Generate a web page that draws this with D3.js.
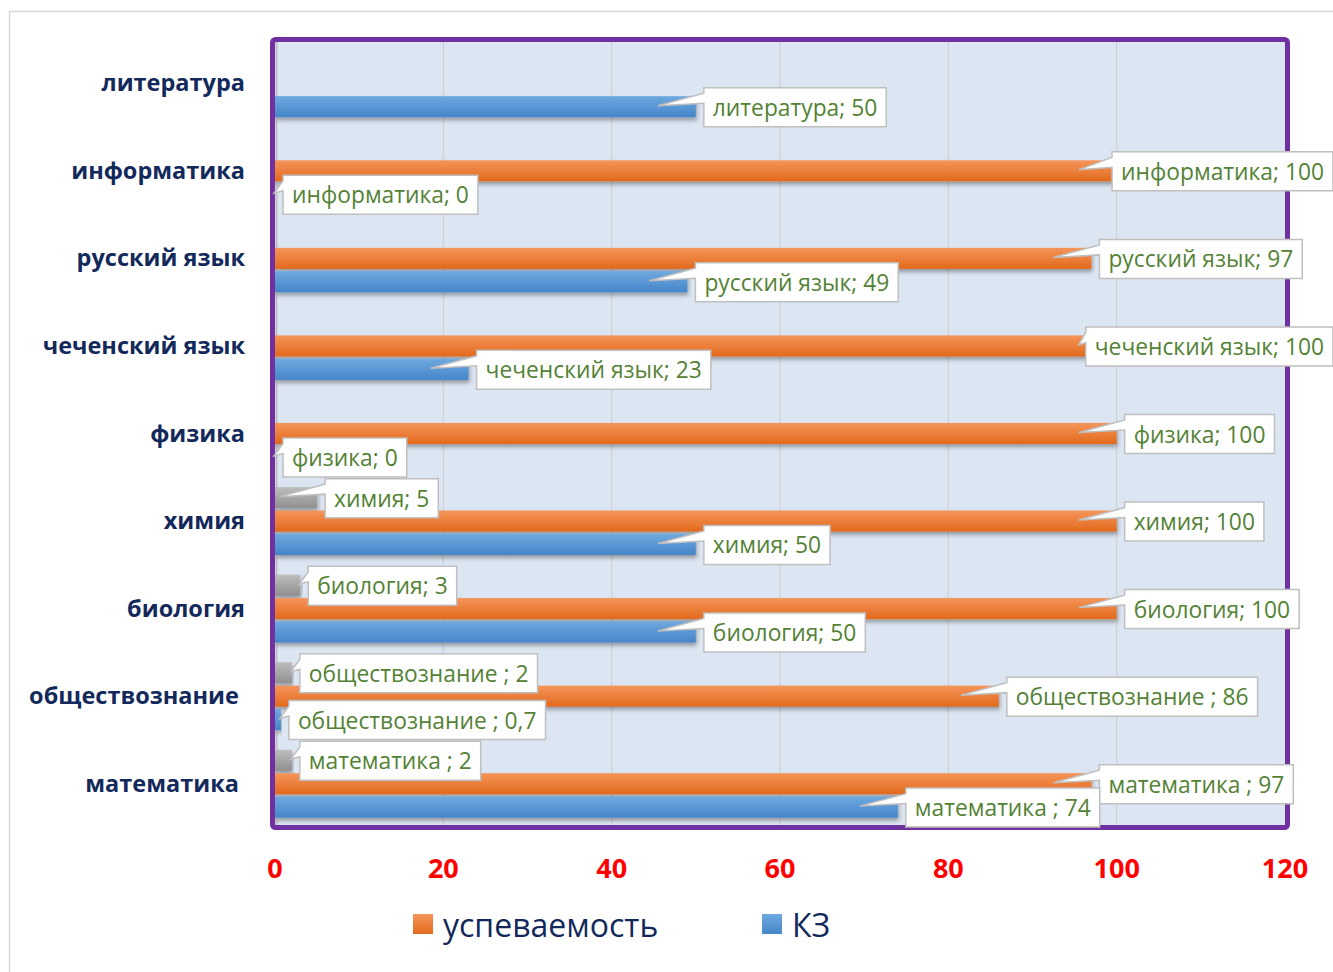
<!DOCTYPE html>
<html><head><meta charset="utf-8">
<script src="https://cdn.jsdelivr.net/npm/d3@7"></script>
<style>
html,body{margin:0;padding:0;background:#fff;}
svg{display:block;}
text{white-space:pre;}
</style></head>
<body>
<svg id="chart" width="1333" height="972"></svg>
<script>
// ---- data ----
const categories = ["литература","информатика","русский язык","чеченский язык","физика","химия","биология","обществознание ","математика "];
const greyValues   = [null, null, null, null, null, 5, 3, 2, 2];
const uspevValues  = [null, 100, 97, 100, 100, 100, 100, 86, 97];
const kzValues     = [50, 0, 49, 23, 0, 50, 50, 0.7, 74];
const xTicks = [0, 20, 40, 60, 80, 100, 120];
const seriesNames = ["ряд3", "успеваемость", "КЗ"];
const legendSeries = ["успеваемость", "КЗ"];

const W = 1333, H = 972;
const svg = d3.select("#chart");
const locale = d3.formatLocale({decimal: ",", thousands: " ", grouping: [3], currency: ["", ""]});
const fmt = v => (Number.isInteger(v) ? String(v) : locale.format(".1f")(v));

const series = [
  {name: seriesNames[0], values: greyValues, top: "#bdbdbd", bot: "#8f8f8f"},
  {name: seriesNames[1], values: uspevValues, top: "#f5955a", bot: "#e2691c"},
  {name: seriesNames[2], values: kzValues, top: "#6fa9df", bot: "#4585c9"}
];

const defs = svg.append("defs");
series.forEach((s, i) => {
  const g = defs.append("linearGradient").attr("id", "grad" + i).attr("x1", 0).attr("y1", 0).attr("x2", 0).attr("y2", 1);
  g.append("stop").attr("offset", "0%").attr("stop-color", s.top);
  g.append("stop").attr("offset", "100%").attr("stop-color", s.bot);
});
const f = defs.append("filter").attr("id", "shadow").attr("x", "-5%").attr("y", "-30%").attr("width", "115%").attr("height", "190%");
f.append("feDropShadow").attr("dx", 1).attr("dy", 3).attr("stdDeviation", 2).attr("flood-color", "#000").attr("flood-opacity", 0.35);

// outer chart border
svg.append("rect").attr("x", 9.5).attr("y", 11.5).attr("width", 1400).attr("height", 1000)
  .attr("fill", "none").attr("stroke", "#d9d9d9").attr("stroke-width", 1.5);

// scales
const x = d3.scaleLinear().domain([0, 120]).range([275, 1285]);
const y = d3.scaleBand().domain(categories).range([39.5, 827.5]).paddingInner(0.225).paddingOuter(0.1125);
const ySub = d3.scaleBand().domain(seriesNames).range([0, y.bandwidth()]).paddingInner(0.1);

// plot area
svg.append("rect").attr("x", 272.5).attr("y", 39.5).attr("width", 1015).attr("height", 788)
  .attr("fill", "#dce6f2");
// gridlines
svg.append("g").selectAll("line").data(xTicks.filter(t => t > 0 && t < 120)).join("line")
  .attr("x1", d => x(d)).attr("x2", d => x(d)).attr("y1", 42).attr("y2", 825)
  .attr("stroke", "#cfd3d8").attr("stroke-width", 1.3);
// category axis line
svg.append("line").attr("x1", 276.5).attr("x2", 276.5).attr("y1", 42).attr("y2", 825)
  .attr("stroke", "#bfbfbf").attr("stroke-width", 2);

// bars
const barsG = svg.append("g");
series.forEach((s, i) => {
  barsG.append("g").selectAll("rect")
    .data(categories.map((c, k) => ({c, v: s.values[k]})).filter(d => d.v != null && d.v > 0))
    .join("rect")
    .attr("x", x(0))
    .attr("y", d => y(d.c) + ySub(s.name))
    .attr("width", d => x(d.v) - x(0))
    .attr("height", ySub.bandwidth())
    .attr("fill", "url(#grad" + i + ")")
    .attr("filter", "url(#shadow)");
});

// purple border
svg.append("rect").attr("x", 272.5).attr("y", 39.5).attr("width", 1015).attr("height", 788).attr("rx", 3)
  .attr("fill", "none").attr("stroke", "#7030a0").attr("stroke-width", 5);

// category labels
svg.append("g").selectAll("text").data(categories).join("text")
  .attr("x", 245).attr("y", d => y(d) + y.bandwidth() / 2 - 1)
  .attr("text-anchor", "end").attr("dominant-baseline", "central")
  .attr("font-family", "'Open Sans', 'Noto Sans', sans-serif").attr("font-weight", 700)
  .attr("font-size", 23.5).attr("fill", "#13295b")
  .text(d => d);

// x tick labels
svg.append("g").selectAll("text").data(xTicks).join("text")
  .attr("x", d => x(d)).attr("y", 867)
  .attr("text-anchor", "middle").attr("dominant-baseline", "central")
  .attr("font-family", "'Open Sans', 'Noto Sans', sans-serif").attr("font-weight", 700)
  .attr("font-size", 27).attr("fill", "#ff0000")
  .text(d => d);

// data labels (callouts)
const labelsG = svg.append("g");
const labelData = [];
series.forEach(s => {
  categories.forEach((c, k) => {
    const v = s.values[k];
    if (v == null) return;
    labelData.push({c, v, s});
  });
});
labelData.forEach(d => {
  const g = labelsG.append("g");
  const barCy = y(d.c) + ySub(d.s.name) + ySub.bandwidth() / 2;
  const cy = barCy + 0.5;
  const txt = g.append("text")
    .attr("font-family", "'Open Sans', 'Noto Sans', sans-serif").attr("font-size", 22.8)
    .attr("fill", "#548235").attr("dominant-baseline", "central")
    .text(d.c + "; " + fmt(d.v));
  const tw = txt.node().getComputedTextLength();
  const bw = tw + 18, bh = 39;
  const left = Math.min(x(d.v) + 8, W - bw);
  const top = cy - bh / 2;
  const tipX = (x(d.v) - x(0) > 40) ? x(d.v) - 38 : x(d.v) - 1;
  const tipY = barCy - 1;
  const path = `M${left},${top} H${left + bw} V${top + bh} H${left} V${cy - 4} L${tipX},${tipY} L${left},${cy - 14} Z`;
  g.insert("path", "text").attr("d", path).attr("fill", "#fff").attr("stroke", "#bfbfbf").attr("stroke-width", 1.5);
  txt.attr("x", left + 9).attr("y", cy);
});

// legend
const legendColors = {"успеваемость": 1, "КЗ": 2};
const legX = [413, 762];
legendSeries.forEach((n, i) => {
  svg.append("rect").attr("x", legX[i]).attr("y", 914).attr("width", 20).attr("height", 20)
    .attr("fill", "url(#grad" + legendColors[n] + ")");
  svg.append("text").attr("x", legX[i] + 30).attr("y", 924).attr("dominant-baseline", "central")
    .attr("font-family", "'Open Sans', 'Noto Sans', sans-serif").attr("font-size", 32)
    .attr("fill", "#13295b").text(n);
});
</script>
</body></html>
